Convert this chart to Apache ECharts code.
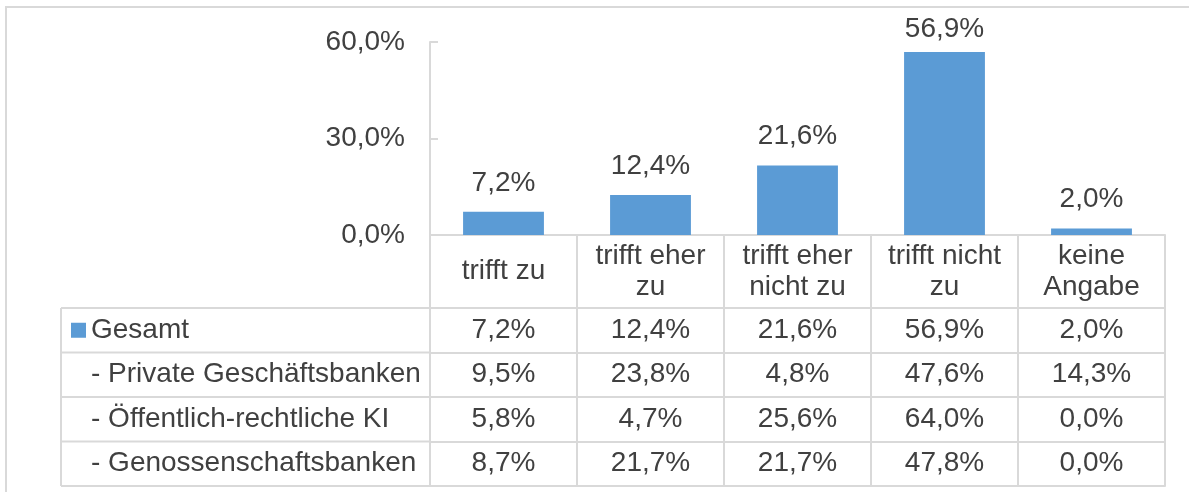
<!DOCTYPE html>
<html>
<head>
<meta charset="utf-8">
<script src="https://cdn.jsdelivr.net/npm/echarts@6/dist/echarts.min.js"></script>
<style>
  html, body { margin: 0; padding: 0; background: #fff; }
  #chart { width: 1189px; height: 492px; }
</style>
</head>
<body>
<div id="chart"></div>
<script>
// Daten
const categories = ['trifft zu', 'trifft eher\nzu', 'trifft eher\nnicht zu', 'trifft nicht\nzu', 'keine\nAngabe']
const gesamt = [7.2, 12.4, 21.6, 56.9, 2.0]
const privat = [9.5, 23.8, 4.8, 47.6, 14.3]
const oeffentlich = [5.8, 4.7, 25.6, 64.0, 0.0]
const genossen = [8.7, 21.7, 21.7, 47.8, 0.0]
const rowNames = ['Gesamt', '- Private Geschäftsbanken', '- Öffentlich-rechtliche KI', '- Genossenschaftsbanken']
const rowValues = [gesamt, privat, oeffentlich, genossen]
const yTicks = [0, 30, 60]

const FONT = '"Liberation Sans", Arial, sans-serif'
const TEXT = '#404040'
const LINE = '#d9d9d9'
const FS = 28

// Layout der Tabelle
const gridLeft = 430
const gridRight = 1165
const axisY = 235
const headerH = 73
const rowH = 44.5
const tableLeft = 61

const fmt = v => v.toFixed(1).replace('.', ',') + '%'

const chart = echarts.init(document.getElementById('chart'))

// eine x-Achse pro Tabellenzeile, gleiche Spalten wie die Kategorien
const rowAxes = rowValues.map((vals, i) => ({
  type: 'category',
  gridIndex: 0,
  position: 'bottom',
  offset: headerH + rowH * i,
  data: vals.map(fmt),
  axisLine: { show: true, lineStyle: { color: LINE, width: 2 } },
  axisTick: { show: true, interval: 0, length: rowH, lineStyle: { color: LINE, width: 2 } },
  axisLabel: {
    interval: 0,
    margin: rowH / 2,
    verticalAlign: 'middle',
    color: TEXT,
    fontSize: FS,
    fontFamily: FONT
  }
}))
// untere Tabellenkante
rowAxes.push({
  type: 'category',
  gridIndex: 0,
  position: 'bottom',
  offset: headerH + rowH * 4,
  data: categories,
  axisLine: { show: true, lineStyle: { color: LINE, width: 2 } },
  axisTick: { show: false },
  axisLabel: { show: false }
})

// linker Teil der Tabelle (Zeilennamen)
const graphics = [
  {
    type: 'rect',
    silent: true,
    shape: { x: 6, y: 7, width: 1300, height: 700 },
    style: { fill: 'none', stroke: LINE, lineWidth: 2 }
  },
  {
    type: 'line',
    silent: true,
    shape: { x1: tableLeft, y1: axisY + headerH, x2: tableLeft, y2: axisY + headerH + rowH * 4 },
    style: { stroke: LINE, lineWidth: 2 }
  }
]
for (let i = 0; i <= 4; i++) {
  const y = axisY + headerH + rowH * i
  graphics.push({
    type: 'line',
    silent: true,
    shape: { x1: tableLeft, y1: y, x2: gridLeft, y2: y },
    style: { stroke: LINE, lineWidth: 2 }
  })
}
for (let i = 1; i < rowNames.length; i++) {
  graphics.push({
    type: 'text',
    silent: true,
    x: 91,
    y: axisY + headerH + rowH * i + rowH / 2,
    style: {
      text: rowNames[i],
      fill: TEXT,
      fontSize: FS,
      fontFamily: FONT,
      verticalAlign: 'middle',
      align: 'left'
    }
  })
}

// höchster Balken: Beschriftung wie in Excel etwas näher am Balken
const maxVal = Math.max.apply(null, gesamt)
const barData = gesamt.map(v => (v === maxVal ? { value: v, label: { distance: 9 } } : v))

const option = {
  animation: false,
  backgroundColor: '#fff',
  textStyle: { fontFamily: FONT },
  grid: {
    left: gridLeft,
    right: 1189 - gridRight,
    top: 42,
    bottom: 492 - axisY,
    containLabel: false,
    outerBoundsMode: 'none'
  },
  legend: {
    data: [rowNames[0]],
    left: 71,
    top: axisY + headerH + rowH / 2 - 14,
    padding: 0,
    icon: 'rect',
    itemWidth: 15,
    itemHeight: 15,
    textStyle: { color: TEXT, fontSize: FS, fontFamily: FONT }
  },
  xAxis: [
    {
      type: 'category',
      data: categories,
      position: 'bottom',
      axisLine: { show: true, lineStyle: { color: LINE, width: 2 } },
      axisTick: { show: true, interval: 0, length: headerH, lineStyle: { color: LINE, width: 2 } },
      axisLabel: {
        interval: 0,
        margin: headerH / 2,
        verticalAlign: 'middle',
        lineHeight: 31,
        color: TEXT,
        fontSize: FS,
        fontFamily: FONT
      }
    }
  ].concat(rowAxes),
  yAxis: {
    type: 'value',
    min: yTicks[0],
    max: yTicks[yTicks.length - 1],
    interval: 30,
    splitLine: { show: false },
    axisLine: { show: true, lineStyle: { color: LINE, width: 2 } },
    axisTick: { show: true, inside: true, length: 8, lineStyle: { color: LINE, width: 2 } },
    axisLabel: {
      margin: 25,
      padding: [5, 0, 0, 0],
      color: TEXT,
      fontSize: FS,
      fontFamily: FONT,
      formatter: v => fmt(v)
    }
  },
  series: [
    {
      name: rowNames[0],
      type: 'bar',
      xAxisIndex: 0,
      data: barData,
      barWidth: '55%',
      itemStyle: { color: '#5b9bd5' },
      label: {
        show: true,
        position: 'top',
        distance: 15,
        color: TEXT,
        fontSize: FS,
        fontFamily: FONT,
        formatter: p => fmt(p.value)
      }
    }
  ],
  graphic: graphics
}

chart.setOption(option)
</script>
</body>
</html>
